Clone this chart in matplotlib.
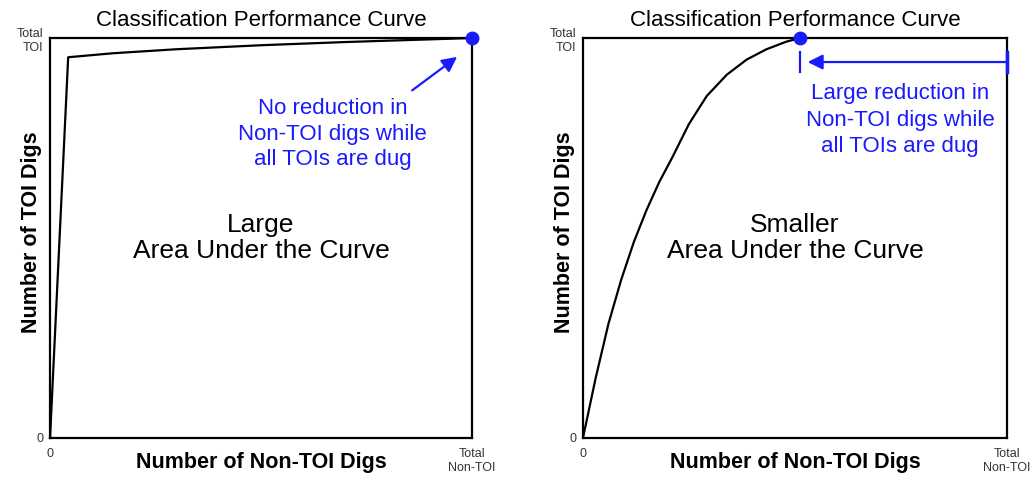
import matplotlib
matplotlib.use("Agg")
import matplotlib.pyplot as plt
import numpy as np

plt.rcParams['font.family'] = ['Liberation Sans', 'DejaVu Sans']

# curves (fraction of total non-TOI / total TOI)
large_x = [0.0, 0.043, 0.15, 0.3, 0.5, 0.7, 0.85, 1.0]
large_y = [0.0, 0.952, 0.962, 0.972, 0.982, 0.990, 0.995, 1.0]

small_x = [0.0, 0.03, 0.06, 0.09, 0.12, 0.15, 0.18, 0.21, 0.25,
           0.292, 0.339, 0.386, 0.433, 0.480, 0.512]
small_y = [0.0, 0.15, 0.285, 0.395, 0.49, 0.57, 0.64, 0.70, 0.785,
           0.855, 0.908, 0.946, 0.972, 0.991, 1.0]

large_stop = 1.0
small_stop = 0.512

title = "Classification Performance Curve"
xticklabels = ["0", "Total\nNon-TOI"]
yticklabels = ["0", "Total\nTOI"]

blue = "#1a1aff"

fig = plt.figure(figsize=(10.36, 4.79), dpi=100)
ax1 = fig.add_axes([0.0483, 0.0856, 0.4073, 0.835])
ax2 = fig.add_axes([0.5627, 0.0856, 0.4092, 0.835])

for ax in (ax1, ax2):
    ax.set_xlim(0, 1)
    ax.set_ylim(0, 1)
    for s in ax.spines.values():
        s.set_linewidth(1.6)
    ax.set_xticks([0, 1])
    ax.set_yticks([0, 1])
    ax.set_xticklabels(xticklabels, fontsize=9, color="#333333", linespacing=1.3)
    ax.set_yticklabels(yticklabels, fontsize=9, color="#333333", linespacing=1.3)
    ax.tick_params(length=0, pad=5)
    ax.tick_params(axis="x", pad=7)
    ax.set_title(title, fontsize=16, pad=9)
    ax.set_xlabel("Number of Non-TOI Digs", fontsize=15.5, fontweight="bold")
    ax.set_ylabel("Number of TOI Digs", fontsize=15.5, fontweight="bold")
    ax.xaxis.set_label_coords(0.5, -0.035)
    ax.yaxis.set_label_coords(-0.019, 0.515)

# left: large AUC
ax1.plot(large_x, large_y, color="black", lw=1.6, clip_on=False)
ax1.plot([large_stop], [1.0], "o", color=blue, ms=9, clip_on=False, zorder=5)
ax1.text(0.5, 0.5, "Large\nArea Under the Curve", ha="center", va="center",
         fontsize=19, linespacing=1.1)
ax1.text(0.67, 0.76, "No reduction in\nNon-TOI digs while\nall TOIs are dug",
         ha="center", va="center", fontsize=16, color=blue, linespacing=1.3)
ax1.annotate("", xy=(0.97, 0.957), xytext=(0.853, 0.865),
             arrowprops=dict(arrowstyle="-|>,head_length=0.9,head_width=0.45",
                             color=blue, lw=1.6))

# right: smaller AUC
ax2.plot(small_x, small_y, color="black", lw=1.6, solid_joinstyle="round")
ax2.plot([small_stop], [1.0], "o", color=blue, ms=9, clip_on=False, zorder=5)
ax2.text(0.5, 0.5, "Smaller\nArea Under the Curve", ha="center", va="center",
         fontsize=19, linespacing=1.1)
ax2.text(0.748, 0.795, "Large reduction in\nNon-TOI digs while\nall TOIs are dug",
         ha="center", va="center", fontsize=16, color=blue, linespacing=1.35)
ax2.annotate("", xy=(small_stop + 0.018, 0.94), xytext=(1.0, 0.94),
             arrowprops=dict(arrowstyle="-|>,head_length=0.9,head_width=0.45",
                             color=blue, lw=1.6, shrinkA=0, shrinkB=0))
ax2.plot([small_stop, small_stop], [0.915, 0.965], color=blue, lw=1.6)
ax2.plot([1.0, 1.0], [0.915, 0.965], color=blue, lw=2.5, clip_on=False, zorder=6)

fig.savefig("out.png", dpi=100)
